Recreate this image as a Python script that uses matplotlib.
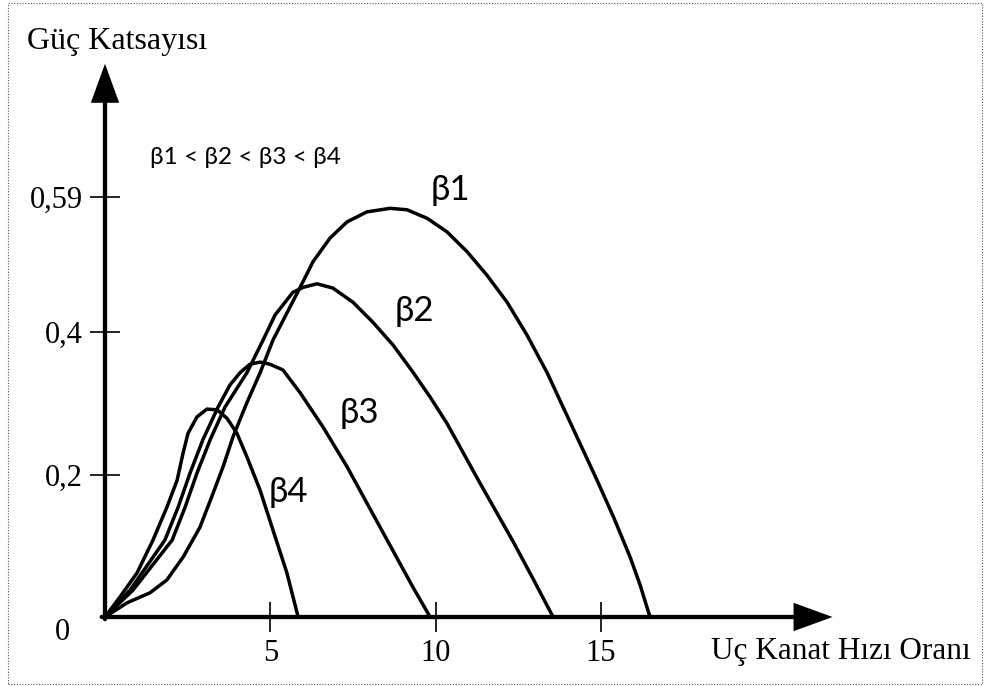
import matplotlib.pyplot as plt
from matplotlib.patches import Rectangle

# Power coefficient curves vs tip speed ratio, one per pitch angle
lam_b1 = [0, 0.67, 1.36, 1.87, 2.36, 2.87, 3.27, 3.57, 3.87, 4.29, 4.69, 5.08, 5.90, 6.29,
          6.80, 7.32, 7.92, 8.62, 9.13, 9.74, 10.34, 10.95, 11.55, 12.16, 12.76, 13.37,
          13.85, 14.36, 14.88, 15.38, 15.88, 16.18, 16.48]
cp_b1 = [0, 0.020, 0.034, 0.052, 0.084, 0.126, 0.174, 0.211, 0.253, 0.301, 0.343, 0.389,
         0.463, 0.499, 0.532, 0.555, 0.569, 0.574, 0.572, 0.560, 0.541, 0.513, 0.480,
         0.442, 0.396, 0.343, 0.295, 0.244, 0.192, 0.140, 0.084, 0.045, 0]

lam_b2 = [0, 0.85, 2.03, 2.42, 2.78, 3.18, 3.63, 4.29, 4.78, 5.14, 5.68, 5.99, 6.41, 6.89,
          7.50, 8.10, 8.71, 9.31, 9.83, 10.34, 11.34, 12.34, 12.94, 13.55]
cp_b2 = [0, 0.038, 0.108, 0.154, 0.202, 0.249, 0.295, 0.343, 0.389, 0.424, 0.456, 0.463,
         0.468, 0.462, 0.442, 0.414, 0.382, 0.344, 0.309, 0.272, 0.188, 0.106, 0.054, 0]

lam_b3 = [0, 0.76, 1.81, 2.21, 2.57, 2.96, 3.42, 3.78, 4.08, 4.38, 4.69, 4.99, 5.38, 5.90,
          6.59, 7.32, 8.32, 9.31, 9.83]
cp_b3 = [0, 0.038, 0.108, 0.154, 0.202, 0.249, 0.295, 0.326, 0.343, 0.355, 0.358, 0.355,
         0.347, 0.315, 0.267, 0.211, 0.126, 0.042, 0]

lam_b4 = [0, 0.45, 0.97, 1.45, 1.87, 2.18, 2.36, 2.51, 2.78, 3.08, 3.39, 3.69, 3.99, 4.29,
          4.69, 5.08, 5.50, 5.84]
cp_b4 = [0, 0.028, 0.062, 0.108, 0.154, 0.192, 0.230, 0.258, 0.281, 0.292, 0.291, 0.279,
         0.258, 0.225, 0.178, 0.122, 0.062, 0]

curves = [(lam_b1, cp_b1), (lam_b2, cp_b2), (lam_b3, cp_b3), (lam_b4, cp_b4)]

beta_labels = ['β1', 'β2', 'β3', 'β4']
beta_label_pos = [(10.46, 0.600), (9.34, 0.430), (7.68, 0.287), (5.56, 0.176)]

x_ticks = [5, 10, 15]
x_ticklabels = ['5', '10', '15']
y_ticks = [0.2, 0.4, 0.59]
y_ticklabels = ['0,2', '0,4', '0,59']

serif = ['Liberation Serif', 'DejaVu Serif']
sans = ['Lato', 'Noto Sans', 'DejaVu Sans']

fig = plt.figure(figsize=(9.87, 6.86), dpi=100)
ax = fig.add_axes([0, 0, 1, 1])
ax.set_xlim(-3.175, 26.67)
ax.set_ylim(-0.0969, 0.8666)
ax.patch.set_visible(False)

for side in ['top', 'right', 'left', 'bottom']:
    ax.spines[side].set_visible(False)
ax.spines['left'].set_position(('data', 0))
ax.spines['bottom'].set_position(('data', 0))

# axes drawn as thick arrows
arrow_kw = dict(arrowstyle='-|>,head_length=1.1,head_width=0.4', lw=3.1, color='black',
                mutation_scale=20, shrinkA=0, shrinkB=0, joinstyle='miter')
ax.annotate('', xy=(0, 0.777), xytext=(0, -0.003), arrowprops=arrow_kw)
ax.annotate('', xy=(22.0, 0), xytext=(-0.1, 0), arrowprops=arrow_kw)

for lam, cp in curves:
    ax.plot(lam, cp, color='black', lw=2.5, solid_joinstyle='round', solid_capstyle='round')

ax.set_xticks(x_ticks)
ax.set_xticklabels(x_ticklabels, fontfamily=serif, fontsize=22)
ax.set_yticks(y_ticks)
ax.set_yticklabels(y_ticklabels, fontfamily=serif, fontsize=22)
ax.tick_params(direction='inout', length=22, width=1.2, color='black')
ax.tick_params(axis='y', pad=5)
ax.tick_params(axis='x', pad=5)

for lab, (bx, by) in zip(beta_labels, beta_label_pos):
    ax.text(bx, by, lab, fontsize=25, family=sans, ha='center', va='center')

fig.text(27 / 987, 1 - 42 / 686, 'Güç Katsayısı', fontsize=23, family=serif, va='center')
fig.text(971 / 987, 1 - 652 / 686, 'Uç Kanat Hızı Oranı', fontsize=22.5, family=serif,
         ha='right', va='center')
fig.text(62 / 987, 1 - 633 / 686, '0', fontsize=22, family=serif, ha='center', va='center')
fig.text(150 / 987, 1 - 157 / 686, 'β1 < β2 < β3 < β4', fontsize=17.5, family=sans, va='center')

# dotted frame around the whole drawing
fig.patches.append(Rectangle((8 / 987, 2 / 686), 974 / 987, 681 / 686,
                             transform=fig.transFigure, fill=False, ec='#555555',
                             lw=0.8, ls=(0, (1, 1.5))))

fig.savefig('out.png', dpi=100)
